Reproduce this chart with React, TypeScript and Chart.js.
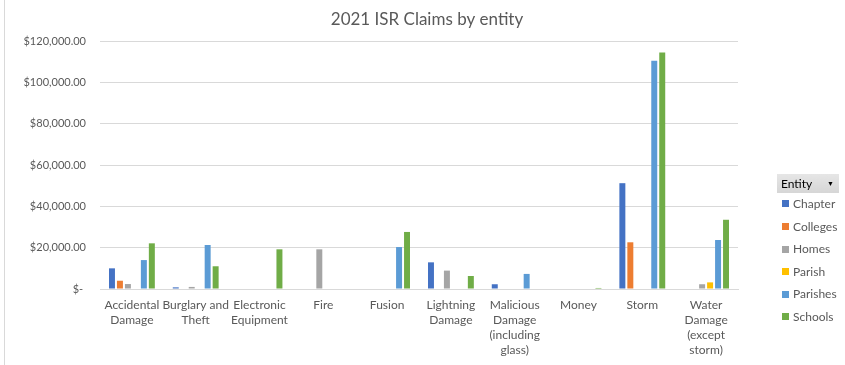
import React, { useEffect, useRef } from "react";
import { Chart, registerables } from "chart.js";

Chart.register(...registerables);

const categories: string[][] = [
  ["Accidental", "Damage"],
  ["Burglary and", "Theft"],
  ["Electronic", "Equipment"],
  ["Fire"],
  ["Fusion"],
  ["Lightning", "Damage"],
  ["Malicious", "Damage", "(including", "glass)"],
  ["Money"],
  ["Storm"],
  ["Water", "Damage", "(except", "storm)"],
];

const seriesNames = ["Chapter", "Colleges", "Homes", "Parish", "Parishes", "Schools"];
const seriesColors = ["#4472C4", "#ED7D31", "#A5A5A5", "#FFC000", "#5B9BD5", "#70AD47"];

const chapter = [10000, 800, 0, 0, 0, 12900, 2300, 0, 51200, 0];
const colleges = [4000, 0, 0, 0, 0, 0, 0, 0, 22600, 0];
const homes = [2400, 1000, 0, 19200, 0, 8900, 0, 0, 0, 2300];
const parish = [0, 0, 0, 0, 0, 0, 0, 0, 0, 3200];
const parishes = [14000, 21300, 0, 0, 20300, 0, 7300, 0, 110500, 23700];
const schools = [22100, 11000, 19200, 0, 27600, 6300, 0, 500, 114400, 33500];

const seriesValues = [chapter, colleges, homes, parish, parishes, schools];

const yTicks = [0, 20000, 40000, 60000, 80000, 100000, 120000];

const titleText = "2021 ISR Claims by entity";
const legendTitle = "Entity";

const FONT = "Lato, 'Open Sans', sans-serif";

export default function App() {
  const canvasRef = useRef<HTMLCanvasElement | null>(null);

  useEffect(() => {
    if (!canvasRef.current) return;
    const titlePlugin = {
      id: "customTitle",
      afterDraw(chart: any) {
        const ctx = chart.ctx;
        ctx.save();
        ctx.font = `17px ${FONT}`;
        ctx.fillStyle = "#595959";
        ctx.textAlign = "center";
        ctx.textBaseline = "middle";
        ctx.fillText(titleText, 427, 20);
        ctx.restore();
      },
    };
    const chart = new Chart(canvasRef.current, {
      type: "bar",
      data: {
        labels: categories,
        datasets: seriesNames.map((name, i) => ({
          label: name,
          data: seriesValues[i],
          backgroundColor: seriesColors[i],
          borderWidth: 0,
          categoryPercentage: 0.75,
          barPercentage: 0.75,
        })),
      },
      options: {
        animation: false,
        responsive: false,
        maintainAspectRatio: false,
        layout: { padding: { left: 0, right: 107, top: 41, bottom: 0 } },
        plugins: {
          legend: { display: false },
          title: { display: false },
          tooltip: { enabled: false },
        },
        scales: {
          x: {
            grid: { display: false, drawTicks: false },
            border: { display: true, color: "#d9d9d9", width: 1 },
            ticks: {
              color: "#595959",
              font: { family: FONT, size: 12, lineHeight: 1.25 },
              padding: 9,
              maxRotation: 0,
              autoSkip: false,
            },
            afterFit(scale: any) {
              scale.height = 76;
            },
          },
          y: {
            min: 0,
            max: 120000,
            afterBuildTicks(scale: any) {
              scale.ticks = yTicks.map((v) => ({ value: v }));
            },
            grid: { color: "#d9d9d9", drawTicks: false, lineWidth: 1 },
            border: { display: false },
            ticks: {
              color: "#595959",
              font: { family: FONT, size: 11 },
              padding: 14,
              callback(value: any) {
                const v = Number(value);
                if (v === 0) return "$- ";
                return "$" + v.toLocaleString("en-US", { minimumFractionDigits: 2, maximumFractionDigits: 2 });
              },
            },
            afterFit(scale: any) {
              scale.width = 100;
            },
          },
        },
      },
      plugins: [titlePlugin],
    });
    return () => chart.destroy();
  }, []);

  return (
    <div style={{ position: "fixed", left: 0, top: 0, width: 845, height: 365, background: "#fff", overflow: "hidden" }}>
      <canvas ref={canvasRef} width={845} height={365} style={{ position: "absolute", left: 0, top: 0, width: 845, height: 365 }} />
      <div style={{ position: "absolute", left: 4, top: 0, width: 1, height: 365, background: "#d9d9d9" }} />
      <div
        style={{
          position: "absolute",
          left: 777,
          top: 174,
          width: 62,
          height: 19,
          background: "linear-gradient(#e6e6e6, #d6d6d6)",
          fontFamily: FONT,
          fontSize: 12,
          color: "#000",
          lineHeight: "19px",
        }}
      >
        <span style={{ position: "absolute", left: 4, top: 0 }}>{legendTitle}</span>
        <span style={{ position: "absolute", right: 5, top: 0, fontSize: 7 }}>▼</span>
      </div>
      {seriesNames.map((name, i) => (
        <div
          key={name}
          style={{
            position: "absolute",
            left: 782,
            top: 204 + i * 22.6 - 8,
            height: 16,
            lineHeight: "16px",
            fontFamily: FONT,
            fontSize: 12,
            color: "#595959",
            whiteSpace: "nowrap",
          }}
        >
          <span
            style={{
              display: "inline-block",
              width: 7,
              height: 7,
              background: seriesColors[i],
              marginRight: 4,
              verticalAlign: "middle",
              position: "relative",
              top: -1,
            }}
          />
          {name}
        </div>
      ))}
    </div>
  );
}
